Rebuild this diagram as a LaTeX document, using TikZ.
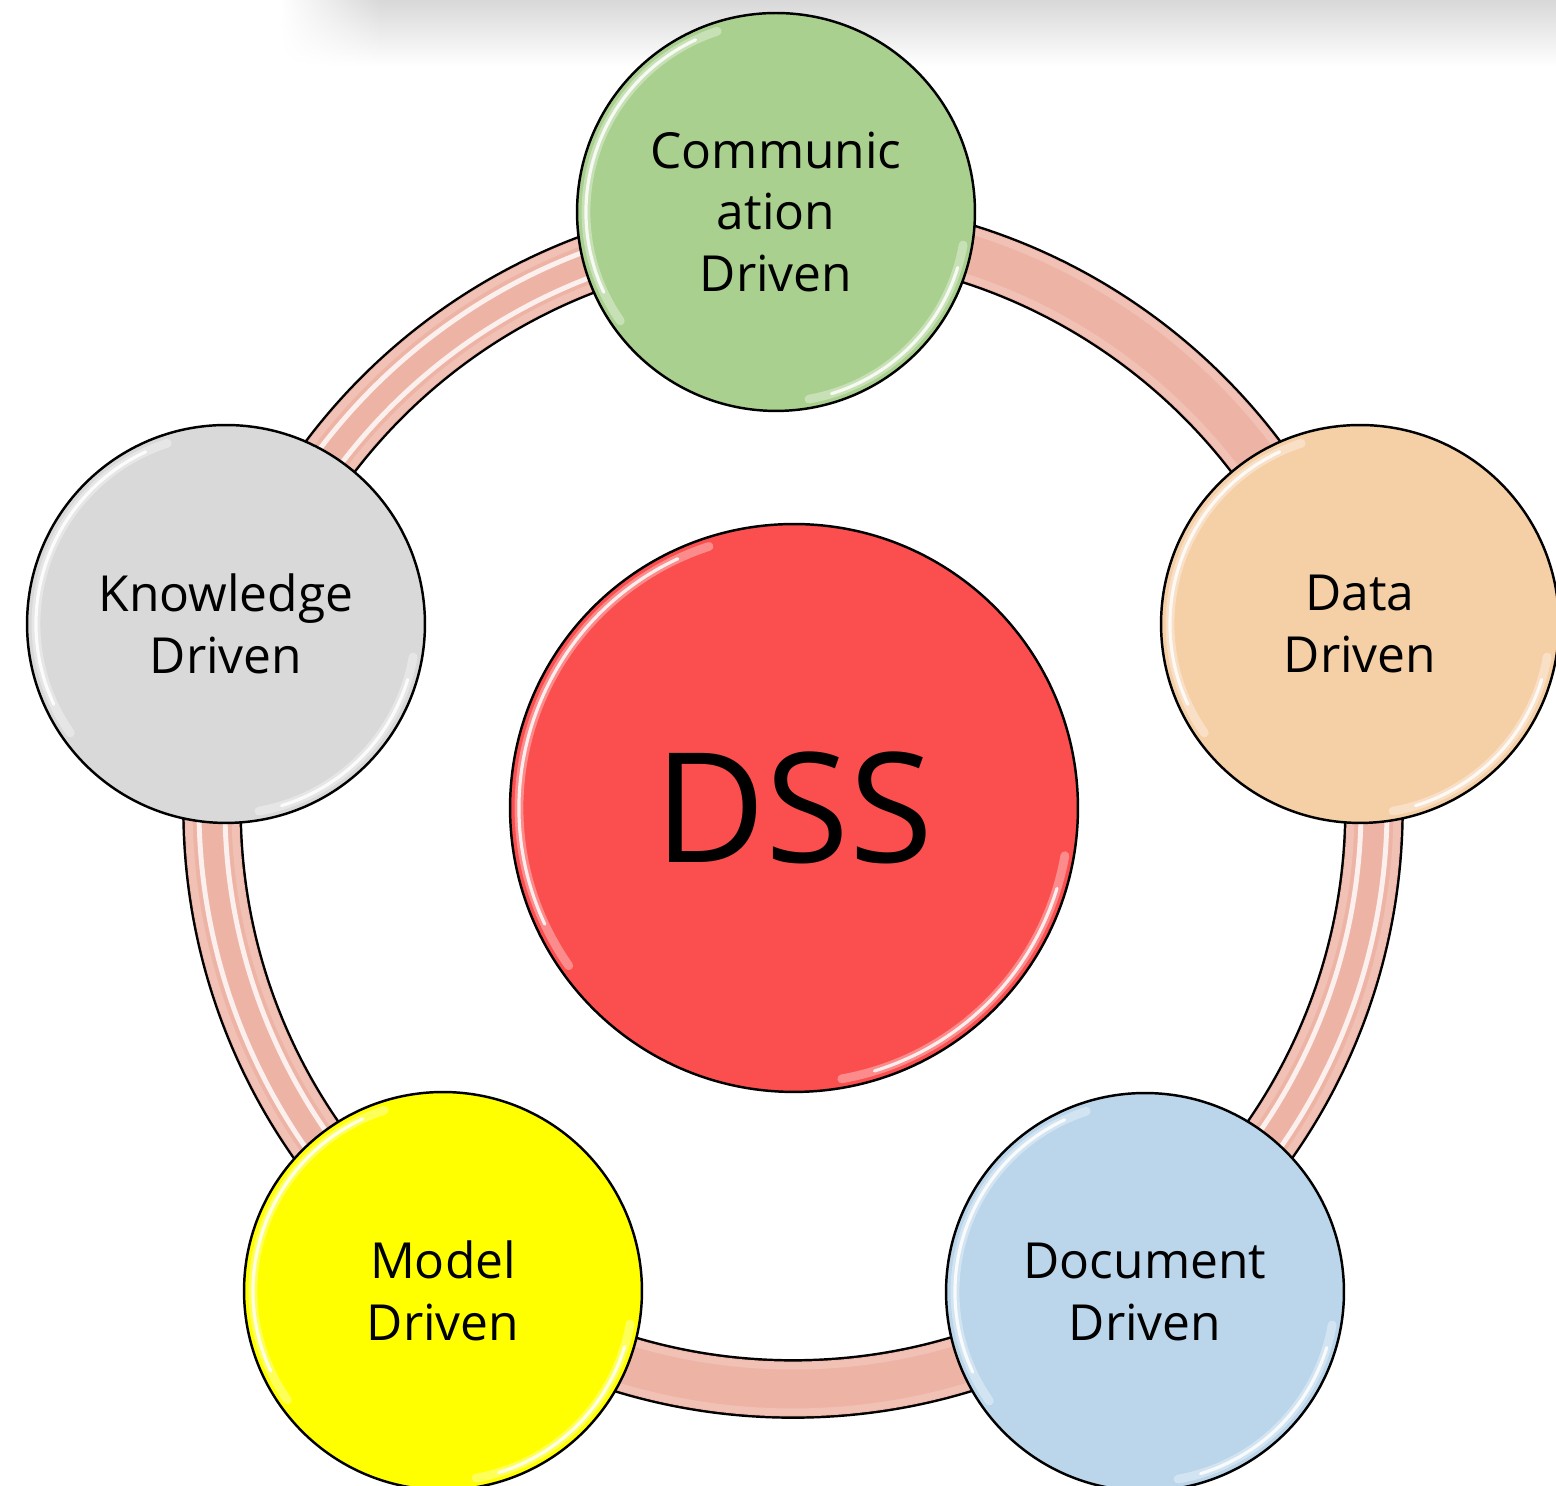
\documentclass[tikz,border=0pt]{standalone}
\usepackage{fontspec}
\setmainfont{Open Sans}
\usetikzlibrary{fadings}

\definecolor{shadowgray}{HTML}{D8D8D8}
\definecolor{bandrim}{HTML}{F6D3CA}
\definecolor{bandcore}{HTML}{EDB4A6}
\definecolor{commgreen}{HTML}{A9D08E}
\definecolor{datapeach}{HTML}{F5CFA6}
\definecolor{knowgray}{HTML}{D9D9D9}
\definecolor{modelyellow}{HTML}{FFFF00}
\definecolor{docblue}{HTML}{BBD6EA}
\definecolor{dssred}{HTML}{FB4E4E}

\begin{document}
\begin{tikzpicture}[x=0.02cm, y=0.02cm,
  bubble/.style={circle, draw=black, line width=1.4pt, minimum size=7.96cm,
    inner sep=0pt, align=center, text=black,
    font=\fontsize{28.3}{35.2}\selectfont},
  core/.style={circle, draw=black, line width=1.4pt, minimum size=11.36cm,
    inner sep=0pt, text=black, font=\fontsize{87}{90}\selectfont},
  glow/.style={white, line width=5pt, line cap=round, opacity=0.35},
  shine/.style={white, line width=1.8pt, line cap=round, opacity=0.85},
  stripe/.style={white, line width=2.8pt, opacity=0.8},
  rimlight/.style={bandrim, line width=4pt, opacity=0.45}]

\useasboundingbox (0,0) rectangle (1556,1486);

% soft grey strip along the top edge
\shade[top color=shadowgray, bottom color=white] (380,1486) rectangle (1556,1420);
\shade[top color=shadowgray, bottom color=white, path fading=west] (280,1486) rectangle (380,1420);

% the ring joining the five satellites
\coordinate (ring) at (793,678);
\draw[black, line width=34pt] (ring) circle[radius=581];
\draw[bandcore, line width=31.2pt] (ring) circle[radius=581];
\draw[rimlight] (ring) circle[radius=604];
\draw[rimlight] (ring) circle[radius=558];

% light stripes on the side arcs
\foreach \a/\b in {92/162, 162/234, 18/-54}{
  \draw[stripe] (ring) ++(\a:594) arc[start angle=\a, end angle=\b, radius=594];
  \draw[stripe] (ring) ++(\a:568) arc[start angle=\a, end angle=\b, radius=568];
}

% centre circle
\node[core, fill=dssred] (dss) at (794,678) {DSS};

% satellites
\node[bubble, fill=commgreen]   (comm)  at (776,1274) {Communic\\ation\\Driven};
\node[bubble, fill=datapeach]   (data)  at (1360,862) {Data\\Driven};
\node[bubble, fill=knowgray]    (know)  at (226,862)  {Knowledge\\Driven};
\node[bubble, fill=modelyellow] (model) at (443,195)  {Model\\Driven};
\node[bubble, fill=docblue]     (doc)   at (1145,194) {Document\\Driven};

% glossy highlights inside each circle
\foreach \n in {comm, data, know, model, doc}{
  \draw[glow]  (\n.center) ++(108:190) arc[start angle=108, end angle=215, radius=190];
  \draw[shine] (\n.center) ++(115:190) arc[start angle=115, end angle=205, radius=190];
  \draw[glow]  (\n.center) ++(280:190) arc[start angle=280, end angle=350, radius=190];
  \draw[shine] (\n.center) ++(287:190) arc[start angle=287, end angle=343, radius=190];
}
\draw[glow]  (dss.center) ++(108:275) arc[start angle=108, end angle=215, radius=275];
\draw[shine] (dss.center) ++(115:275) arc[start angle=115, end angle=205, radius=275];
\draw[glow]  (dss.center) ++(280:275) arc[start angle=280, end angle=350, radius=275];
\draw[shine] (dss.center) ++(287:275) arc[start angle=287, end angle=343, radius=275];

\end{tikzpicture}
\end{document}
